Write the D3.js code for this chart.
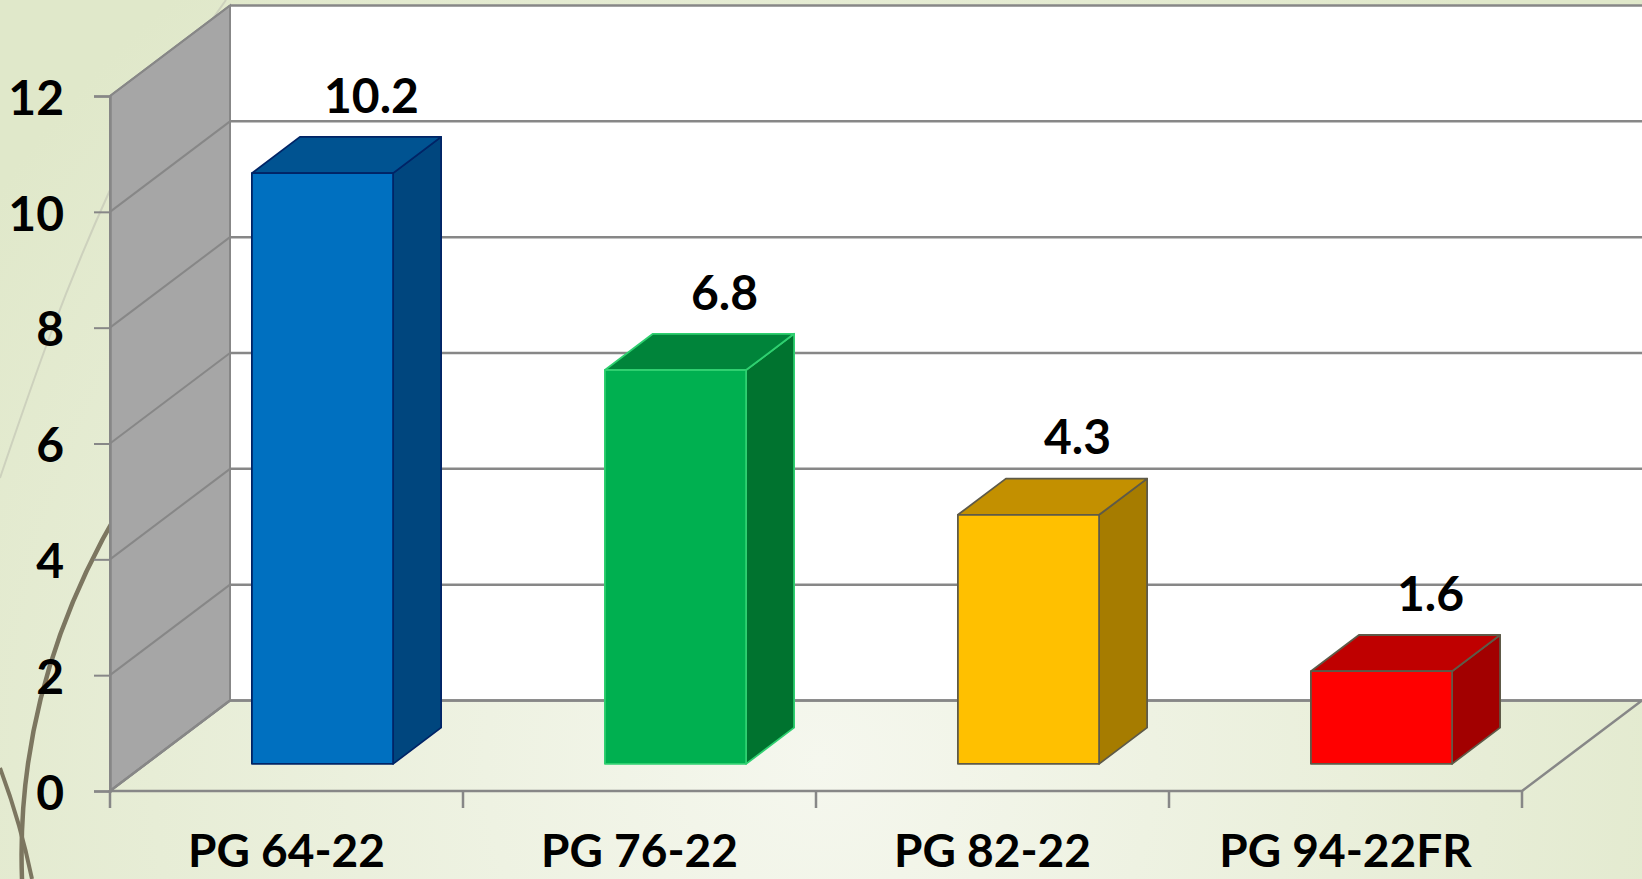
<!DOCTYPE html>
<html>
<head>
<meta charset="utf-8">
<script src="https://cdn.jsdelivr.net/npm/d3@7"></script>
<style>
  html, body { margin: 0; padding: 0; overflow: hidden; }
  svg { display: block; }
</style>
</head>
<body>
<div id="visualization"></div>
<script>
// chart data
const categories = ["PG 64-22", "PG 76-22", "PG 82-22", "PG 94-22FR"];
const values = [10.2, 6.8, 4.3, 1.6];
const yTicks = [0, 2, 4, 6, 8, 10, 12];

// bar colours: front, top, side, outline
const frontColors = ["#0070C0", "#00B050", "#FFC000", "#FF0000"];
const topColors = ["#005391", "#00843A", "#C39000", "#BF0000"];
const sideColors = ["#00467E", "#00732F", "#A67C00", "#A20000"];
const edgeColors = ["#002466", "#2FD070", "#5E5A48", "#5E5A48"];

const width = 1642, height = 879;
const depthX = 120, depthY = -90.5;   // 3D offset of the back wall
const fontFamily = "Lato, 'Noto Sans', sans-serif";

const x = d3.scaleBand().domain(categories).range([110, 1522]);
const y = d3.scaleLinear().domain([0, 12]).range([791, 96]);

// project a point from the front plane to depth d (0 = front, 1 = back)
const proj = (px, py, d) => [px + depthX * d, py + depthY * d];

const svg = d3.select("#visualization").append("svg")
  .attr("width", width)
  .attr("height", height);

const defs = svg.append("defs");
const grad = defs.append("radialGradient")
  .attr("id", "bg")
  .attr("gradientUnits", "userSpaceOnUse")
  .attr("cx", 820).attr("cy", 760).attr("r", 1000);
grad.append("stop").attr("offset", "0").attr("stop-color", "#F5F7EE");
grad.append("stop").attr("offset", "1").attr("stop-color", "#E0E8CA");

svg.append("rect")
  .attr("width", width).attr("height", height)
  .attr("fill", "url(#bg)");

// decorative stems in the background
svg.append("path")
  .attr("d", "M0,478 C30,390 60,300 110,190 C150,110 190,50 226,0")
  .attr("fill", "none").attr("stroke", "#CDD1BD").attr("stroke-width", 2);
svg.append("path")
  .attr("d", "M22,879 C18,770 40,640 125,500")
  .attr("fill", "none").attr("stroke", "#7C7660").attr("stroke-width", 4.5);
svg.append("path")
  .attr("d", "M0,768 C12,800 24,840 32,879")
  .attr("fill", "none").attr("stroke", "#7C7660").attr("stroke-width", 4);

const gridColor = "#878787";

// back wall
const backTop = proj(110, y(12), 1)[1];
const backBottom = proj(110, y(0), 1)[1];
svg.append("rect")
  .attr("x", 110 + depthX).attr("y", backTop)
  .attr("width", width - 110 - depthX).attr("height", backBottom - backTop)
  .attr("fill", "#FFFFFF");

// side wall
const sideWall = [proj(110, y(12), 0), proj(110, y(12), 1), proj(110, y(0), 1), proj(110, y(0), 0)];
svg.append("polygon")
  .attr("points", sideWall.map(p => p.join(",")).join(" "))
  .attr("fill", "#A6A6A6")
  .attr("stroke", gridColor).attr("stroke-width", 2);

// floor
const floor = [proj(110, y(0), 0), proj(110, y(0), 1), proj(1522, y(0), 1), proj(1522, y(0), 0)];
svg.append("polygon")
  .attr("points", floor.map(p => p.join(",")).join(" "))
  .attr("fill", "none")
  .attr("stroke", gridColor).attr("stroke-width", 2.5);

// gridlines: along the side wall and across the back wall
const grid = svg.append("g");
yTicks.forEach(t => {
  const a = proj(110, y(t), 0), b = proj(110, y(t), 1);
  grid.append("line")
    .attr("x1", a[0]).attr("y1", a[1]).attr("x2", b[0]).attr("y2", b[1])
    .attr("stroke", gridColor).attr("stroke-width", 2);
  grid.append("line")
    .attr("x1", b[0]).attr("y1", b[1]).attr("x2", width).attr("y2", b[1])
    .attr("stroke", gridColor).attr("stroke-width", 2.5);
});

// value axis
const yAxis = svg.append("g")
  .attr("transform", "translate(110,0)")
  .call(d3.axisLeft(y).tickValues(yTicks).tickSize(16).tickPadding(30).tickFormat(d3.format("d")));
yAxis.select(".domain").attr("stroke", gridColor).attr("stroke-width", 2.5);
yAxis.selectAll(".tick line").attr("stroke", gridColor).attr("stroke-width", 2);
yAxis.selectAll(".tick text")
  .attr("fill", "#000")
  .attr("dy", "0.38em")
  .style("font-family", fontFamily)
  .style("font-weight", "bold")
  .style("font-size", "48px");

// category axis: tick marks between categories, labels at centres
const xBase = y(0);
const edges = categories.map(c => x(c)).concat([x.range()[1]]);
svg.append("g").selectAll("line")
  .data(edges)
  .enter().append("line")
  .attr("x1", d => d).attr("x2", d => d)
  .attr("y1", xBase).attr("y2", xBase + 17)
  .attr("stroke", gridColor).attr("stroke-width", 2.5);

svg.append("g").selectAll("text")
  .data(categories)
  .enter().append("text")
  .attr("x", c => x(c) + x.bandwidth() / 2)
  .attr("y", 867)
  .attr("text-anchor", "middle")
  .style("font-family", fontFamily)
  .style("font-weight", "bold")
  .style("font-size", "46px")
  .text(c => c);

// 3D bars
const barFrac = 0.4, d0 = 0.3, d1 = 0.7;
const bars = svg.append("g").selectAll("g")
  .data(values)
  .enter().append("g");

const pts = ps => ps.map(p => p.join(",")).join(" ");

bars.each(function(v, i) {
  const g = d3.select(this);
  const bw = x.bandwidth() * barFrac;
  const left = x(categories[i]) + (x.bandwidth() - bw) / 2;
  const right = left + bw;
  const top = y(v), bottom = y(0);

  const front = [proj(left, top, d0), proj(right, top, d0), proj(right, bottom, d0), proj(left, bottom, d0)];
  const side = [proj(right, top, d0), proj(right, top, d1), proj(right, bottom, d1), proj(right, bottom, d0)];
  const lid = [proj(left, top, d0), proj(left, top, d1), proj(right, top, d1), proj(right, top, d0)];

  g.append("polygon").attr("points", pts(side))
    .attr("fill", sideColors[i]).attr("stroke", edgeColors[i]).attr("stroke-width", 1.8)
    .attr("stroke-linejoin", "round");
  g.append("polygon").attr("points", pts(lid))
    .attr("fill", topColors[i]).attr("stroke", edgeColors[i]).attr("stroke-width", 1.8)
    .attr("stroke-linejoin", "round");
  g.append("polygon").attr("points", pts(front))
    .attr("fill", frontColors[i]).attr("stroke", edgeColors[i]).attr("stroke-width", 1.8)
    .attr("stroke-linejoin", "round");
});

// value labels
svg.append("g").selectAll("text")
  .data(values)
  .enter().append("text")
  .attr("x", (v, i) => x(categories[i]) + x.bandwidth() / 2 + 85)
  .attr("y", v => proj(0, y(v), 1)[1] + 3)
  .attr("text-anchor", "middle")
  .style("font-family", fontFamily)
  .style("font-weight", "bold")
  .style("font-size", "48px")
  .text(v => d3.format(".1f")(v));
</script>
</body>
</html>
